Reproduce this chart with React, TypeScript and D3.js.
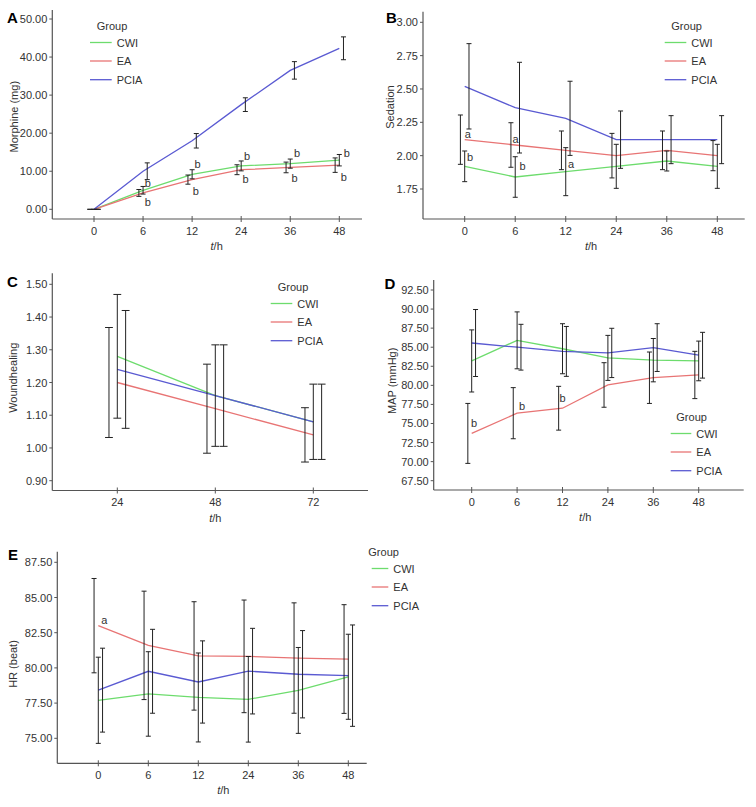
import React from 'react';
import * as d3 from 'd3';

const GROUPS = ['CWI', 'EA', 'PCIA'];
const GROUP_COLORS = ['#6ddc6d', '#e87474', '#5a5ad2'];
const HOURS = ['0', '6', '12', '24', '36', '48'];
const WOUND_HOURS = ['24', '48', '72'];

// A: Morphine (mg)
const morphineCWI = [0, 5.0, 9.2, 11.4, 12.0, 12.9];
const morphineCWIErr = [0, 1.0, 1.2, 1.3, 1.2, 1.5];
const morphineEA = [0, 4.3, 7.8, 10.4, 11.0, 11.6];
const morphineEAErr = [0, 0.9, 1.2, 1.3, 1.4, 1.9];
const morphinePCIA = [0, 10.0, 18.0, 27.5, 36.5, 42.3];
const morphinePCIAErr = [0, 2.2, 1.9, 1.8, 2.3, 3.0];
const morphineTicks = [0, 10, 20, 30, 40, 50];

// B: Sedation
const sedationCWI = [1.92, 1.84, 1.88, 1.92, 1.96, 1.92];
const sedationCWIErr = [0.115, 0.152, 0.18, 0.165, 0.075, 0.165];
const sedationEA = [2.12, 2.08, 2.04, 2.0, 2.04, 2.0];
const sedationEAErr = [0.185, 0.167, 0.145, 0.167, 0.145, 0.113];
const sedationPCIA = [2.52, 2.36, 2.28, 2.12, 2.12, 2.12];
const sedationPCIAErr = [0.32, 0.34, 0.278, 0.215, 0.18, 0.18];
const sedationTicks = [1.75, 2.0, 2.25, 2.5, 2.75, 3.0];

// C: Woundhealing
const woundCWI = [1.28, 1.16, 1.08];
const woundCWIErr = [0.189, 0.155, 0.115];
const woundEA = [1.2, 1.12, 1.04];
const woundEAErr = [0.168, 0.136, 0.083];
const woundPCIA = [1.24, 1.16, 1.08];
const woundPCIAErr = [0.18, 0.155, 0.115];
const woundTicks = [0.9, 1.0, 1.1, 1.2, 1.3, 1.4, 1.5];

// D: MAP (mmHg)
const mapCWI = [83.2, 85.9, 84.8, 83.6, 83.3, 83.2];
const mapCWIErr = [4.07, 3.73, 3.28, 2.95, 2.84, 2.6];
const mapEA = [73.7, 76.35, 77.0, 80.05, 81.0, 81.36];
const mapEAErr = [3.93, 3.35, 2.87, 2.92, 3.37, 3.1];
const mapPCIA = [85.55, 85.0, 84.45, 84.25, 84.95, 83.95];
const mapPCIAErr = [4.39, 3.0, 3.27, 3.23, 3.13, 3.0];
const mapTicks = [67.5, 70, 72.5, 75, 77.5, 80, 82.5, 85, 87.5, 90, 92.5];

// E: HR (beat)
const hrCWI = [77.7, 78.15, 77.9, 77.77, 78.4, 79.37];
const hrCWIErr = [3.06, 3.0, 3.16, 3.04, 3.05, 3.02];
const hrEA = [83.0, 81.6, 80.85, 80.82, 80.7, 80.63];
const hrEAErr = [3.35, 3.85, 3.85, 4.0, 3.92, 3.86];
const hrPCIA = [78.42, 79.76, 79.0, 79.77, 79.55, 79.45];
const hrPCIAErr = [2.98, 2.98, 2.92, 3.04, 3.1, 3.6];
const hrTicks = [75, 77.5, 80, 82.5, 85, 87.5];

type Ann = { cat: string; group: number; text: string; dx: number; dy: number };

const morphineNotes: Ann[] = [
  { cat: '6', group: 0, text: 'b', dx: 4.7, dy: -7 },
  { cat: '6', group: 1, text: 'b', dx: 4.7, dy: 9.4 },
  { cat: '12', group: 0, text: 'b', dx: 5.5, dy: -10.3 },
  { cat: '12', group: 1, text: 'b', dx: 3.8, dy: 11.1 },
  { cat: '24', group: 0, text: 'b', dx: 6, dy: -9.9 },
  { cat: '24', group: 1, text: 'b', dx: 4.3, dy: 9.6 },
  { cat: '36', group: 0, text: 'b', dx: 6.7, dy: -10.9 },
  { cat: '36', group: 1, text: 'b', dx: 4.3, dy: 10.9 },
  { cat: '48', group: 0, text: 'b', dx: 7.4, dy: -6.9 },
  { cat: '48', group: 1, text: 'b', dx: 4.4, dy: 11.6 },
];
const sedationNotes: Ann[] = [
  { cat: '0', group: 1, text: 'a', dx: 3, dy: -5.3 },
  { cat: '0', group: 0, text: 'b', dx: 5.3, dy: -9 },
  { cat: '6', group: 1, text: 'a', dx: 0.4, dy: -5.7 },
  { cat: '6', group: 0, text: 'b', dx: 7.4, dy: -10.6 },
  { cat: '12', group: 0, text: 'a', dx: 5.4, dy: -7.3 },
];
const mapNotes: Ann[] = [
  { cat: '0', group: 1, text: 'b', dx: 2.3, dy: -10.7 },
  { cat: '6', group: 1, text: 'b', dx: 5, dy: -7.5 },
  { cat: '12', group: 1, text: 'b', dx: 0, dy: -9.9 },
];
const hrNotes: Ann[] = [{ cat: '0', group: 1, text: 'a', dx: 6, dy: -5.7 }];

const FONT = '"Liberation Sans", Arial, sans-serif';
const TEXT = '#333';
const AXIS = '#555';

interface PanelCfg {
  letter: string;
  letterX: number;
  letterY: number;
  cats: string[];
  means: number[][];
  errs: number[][];
  left: number;
  right: number;
  top: number;
  bottom: number;
  xFirst: number;
  xLast: number;
  ticks: number[];
  tickPx: [number, number];
  yTitle: string;
  yTitleX: number;
  yTitleY: number;
  legX: number;
  legY: number;
  groupDx: number;
  lineLen: number;
  notes: Ann[];
}

const panels: PanelCfg[] = [
  {
    letter: 'A', letterX: 7, letterY: 23, cats: HOURS,
    means: [morphineCWI, morphineEA, morphinePCIA],
    errs: [morphineCWIErr, morphineEAErr, morphinePCIAErr],
    left: 52.3, right: 362, top: 10, bottom: 219, xFirst: 94, xLast: 339.3,
    ticks: morphineTicks, tickPx: [209.3, 19],
    yTitle: 'Morphine (mg)', yTitleX: 13.5, yTitleY: 116.7,
    legX: 90, legY: 25.7, groupDx: 6.7, lineLen: 21.7, notes: morphineNotes,
  },
  {
    letter: 'B', letterX: 386, letterY: 23, cats: HOURS,
    means: [sedationCWI, sedationEA, sedationPCIA],
    errs: [sedationCWIErr, sedationEAErr, sedationPCIAErr],
    left: 423, right: 744.7, top: 11.7, bottom: 219, xFirst: 464.7, xLast: 717.3,
    ticks: sedationTicks, tickPx: [189, 22.3],
    yTitle: 'Sedation', yTitleX: 390, yTitleY: 107,
    legX: 664.7, legY: 25.7, groupDx: 6.6, lineLen: 21.6, notes: sedationNotes,
  },
  {
    letter: 'C', letterX: 7, letterY: 287, cats: WOUND_HOURS,
    means: [woundCWI, woundEA, woundPCIA],
    errs: [woundCWIErr, woundEAErr, woundPCIAErr],
    left: 52.3, right: 368, top: 273.3, bottom: 490.5, xFirst: 117.3, xLast: 313.3,
    ticks: woundTicks, tickPx: [480.7, 284.3],
    yTitle: 'Woundhealing', yTitleX: 12.5, yTitleY: 377.8,
    legX: 270.7, legY: 286.7, groupDx: 7, lineLen: 21.6, notes: [],
  },
  {
    letter: 'D', letterX: 384.5, letterY: 288.5, cats: HOURS,
    means: [mapCWI, mapEA, mapPCIA],
    errs: [mapCWIErr, mapEAErr, mapPCIAErr],
    left: 433.7, right: 743.7, top: 280, bottom: 490, xFirst: 471.7, xLast: 698.7,
    ticks: mapTicks, tickPx: [480.7, 290],
    yTitle: 'MAP (mmHg)', yTitleX: 391.5, yTitleY: 380.8,
    legX: 670.7, legY: 416.7, groupDx: 5.6, lineLen: 20.6, notes: mapNotes,
  },
  {
    letter: 'E', letterX: 8, letterY: 559.5, cats: HOURS,
    means: [hrCWI, hrEA, hrPCIA],
    errs: [hrCWIErr, hrEAErr, hrPCIAErr],
    left: 57.3, right: 366.7, top: 551.7, bottom: 763.3, xFirst: 98.3, xLast: 348.3,
    ticks: hrTicks, tickPx: [738.3, 562.3],
    yTitle: 'HR (beat)', yTitleX: 12.5, yTitleY: 664,
    legX: 371.7, legY: 551.7, groupDx: -3.4, lineLen: 16.6, notes: hrNotes,
  },
];

const legendRows = [16.8, 35.3, 54];

function Panel({ cfg }: { cfg: PanelCfg }) {
  const x = d3.scalePoint<string>().domain(cfg.cats).range([cfg.xFirst, cfg.xLast]);
  const step = x.step();
  const y = d3
    .scaleLinear()
    .domain([cfg.ticks[0], cfg.ticks[cfg.ticks.length - 1]])
    .range(cfg.tickPx);
  const dodge = step * 0.085;
  const offsets = [0, -dodge, dodge];
  const cap = Math.max(2.5, step * 0.04);
  const fmt = d3.format('.2f');
  const cx = (c: string) => x(c) as number;
  const line = d3
    .line<number>()
    .x((_, i) => cx(cfg.cats[i]))
    .y((d) => y(d));
  const mid = (cfg.xFirst + cfg.xLast) / 2;

  return (
    <g fontFamily={FONT}>
      <text x={cfg.letterX} y={cfg.letterY} fontSize={15} fontWeight="bold" fill="#000">
        {cfg.letter}
      </text>
      {/* axes */}
      <line x1={cfg.left} x2={cfg.left} y1={cfg.top} y2={cfg.bottom} stroke={AXIS} strokeWidth={1.2} />
      <line x1={cfg.left} x2={cfg.right} y1={cfg.bottom} y2={cfg.bottom} stroke={AXIS} strokeWidth={1.2} />
      {cfg.ticks.map((t) => (
        <g key={'yt' + t}>
          <line x1={cfg.left - 3} x2={cfg.left} y1={y(t)} y2={y(t)} stroke={AXIS} />
          <text x={cfg.left - 5} y={y(t)} fontSize={11} fill={TEXT} textAnchor="end" dominantBaseline="central">
            {fmt(t)}
          </text>
        </g>
      ))}
      {cfg.cats.map((c) => (
        <g key={'xt' + c}>
          <line x1={cx(c)} x2={cx(c)} y1={cfg.bottom - 3} y2={cfg.bottom + 3} stroke={AXIS} />
          <text x={cx(c)} y={cfg.bottom + 11.5} fontSize={11} fill={TEXT} textAnchor="middle" dominantBaseline="central">
            {c}
          </text>
        </g>
      ))}
      <text x={mid} y={cfg.bottom + 27} fontSize={11} fill={TEXT} textAnchor="middle" dominantBaseline="central">
        <tspan fontStyle="italic">t</tspan>/h
      </text>
      <text
        transform={`translate(${cfg.yTitleX},${cfg.yTitleY}) rotate(-90)`}
        fontSize={11}
        fill={TEXT}
        textAnchor="middle"
        dominantBaseline="central"
      >
        {cfg.yTitle}
      </text>
      {/* lines */}
      {cfg.means.map((m, gi) => (
        <path key={'l' + gi} d={line(m) || ''} fill="none" stroke={GROUP_COLORS[gi]} strokeWidth={1.3} />
      ))}
      {/* error bars */}
      {cfg.means.map((m, gi) =>
        m.map((v, i) => {
          const bx = cx(cfg.cats[i]) + offsets[gi];
          const e = cfg.errs[gi][i];
          const y1 = y(v + e);
          const y2 = y(v - e);
          return (
            <g key={'e' + gi + '-' + i} stroke="#222" strokeWidth={1}>
              <line x1={bx} x2={bx} y1={y1} y2={y2} />
              <line x1={bx - cap} x2={bx + cap} y1={y1} y2={y1} />
              <line x1={bx - cap} x2={bx + cap} y1={y2} y2={y2} />
            </g>
          );
        })
      )}
      {/* annotations */}
      {cfg.notes.map((n, k) => {
        const gi = n.group;
        const v = cfg.means[gi][cfg.cats.indexOf(n.cat)];
        return (
          <text
            key={'n' + k}
            x={cx(n.cat) + n.dx}
            y={y(v) + n.dy}
            fontSize={11}
            fill={TEXT}
            textAnchor="middle"
            dominantBaseline="central"
          >
            {n.text}
          </text>
        );
      })}
      {/* legend */}
      <text x={cfg.legX + cfg.groupDx} y={cfg.legY} fontSize={11} fill={TEXT} dominantBaseline="central">
        Group
      </text>
      {GROUPS.map((g, gi) => (
        <g key={'lg' + g}>
          <line
            x1={cfg.legX}
            x2={cfg.legX + cfg.lineLen}
            y1={cfg.legY + legendRows[gi]}
            y2={cfg.legY + legendRows[gi]}
            stroke={GROUP_COLORS[gi]}
            strokeWidth={1.3}
          />
          <text
            x={cfg.legX + cfg.lineLen + 5}
            y={cfg.legY + legendRows[gi]}
            fontSize={11}
            fill={TEXT}
            dominantBaseline="central"
          >
            {g}
          </text>
        </g>
      ))}
    </g>
  );
}

export default function App() {
  return (
    <svg
      width={756}
      height={807}
      viewBox="0 0 756 807"
      style={{ position: 'absolute', left: 0, top: 0, background: '#fff' }}
    >
      <rect x={0} y={0} width={756} height={807} fill="#fff" />
      {panels.map((p) => (
        <Panel key={p.letter} cfg={p} />
      ))}
    </svg>
  );
}
